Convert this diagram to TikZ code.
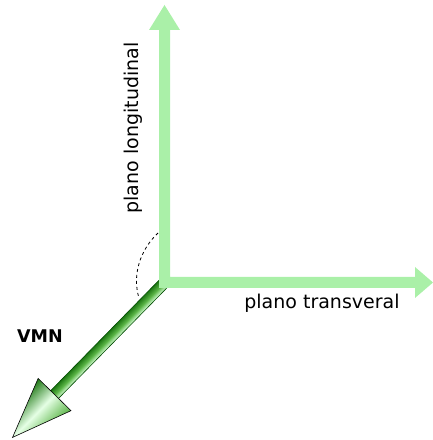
\documentclass[tikz,border=0pt]{standalone}
\usepackage{fontspec}
\setmainfont{DejaVu Sans}
\begin{document}
\begin{tikzpicture}[x=1pt,y=1pt,
  lbl/.style={inner sep=0pt, font=\fontsize{19}{22}\selectfont},
  plane/.style={fill=lightgreen, draw=none}]
\definecolor{lightgreen}{RGB}{170,240,168}
\definecolor{darkgreen}{RGB}{30,120,20}
\definecolor{midgreen}{RGB}{90,180,70}
\useasboundingbox (0,0) rectangle (433,440);
\coordinate (O) at (164.5,157.5);
% dark VMN arrow
\begin{scope}[transform canvas={shift={(O)}, rotate=225.55}]
  \shade[bottom color=darkgreen, top color=white!85!green, middle color=midgreen, draw=black!70!green, line width=0.6pt]
    (0,-5.5) -- (157,-5.5) -- (157,5.5) -- (0,5.5) -- cycle;
  \shade[bottom color=darkgreen, top color=midgreen, middle color=white!90!green, draw=black, line width=0.6pt]
    (157,-23) -- (217,0) -- (157,23) -- cycle;
\end{scope}
% planes arrows
\fill[plane] (159,152) -- (159,410) -- (149,410) -- (164.5,435) -- (180,410) -- (170,410)
  -- (170,163) -- (415,163) -- (415,173) -- (433,157.5) -- (415,142) -- (415,152) -- cycle;
% dashed arc
\coordinate (A) at (158,207);
\coordinate (B) at (139,142);
\draw[dashed, line width=0.8pt] (A) .. controls (140,190) and (132,165) .. (B);
% labels
\node[lbl, rotate=90] (long) at (133,312) {plano longitudinal};
\node[lbl] (trans) at (322,137) {plano transveral};
\node[lbl, font=\fontsize{17.5}{20}\selectfont\bfseries] (vmn) at (40,104) {VMN};
\end{tikzpicture}
\end{document}
